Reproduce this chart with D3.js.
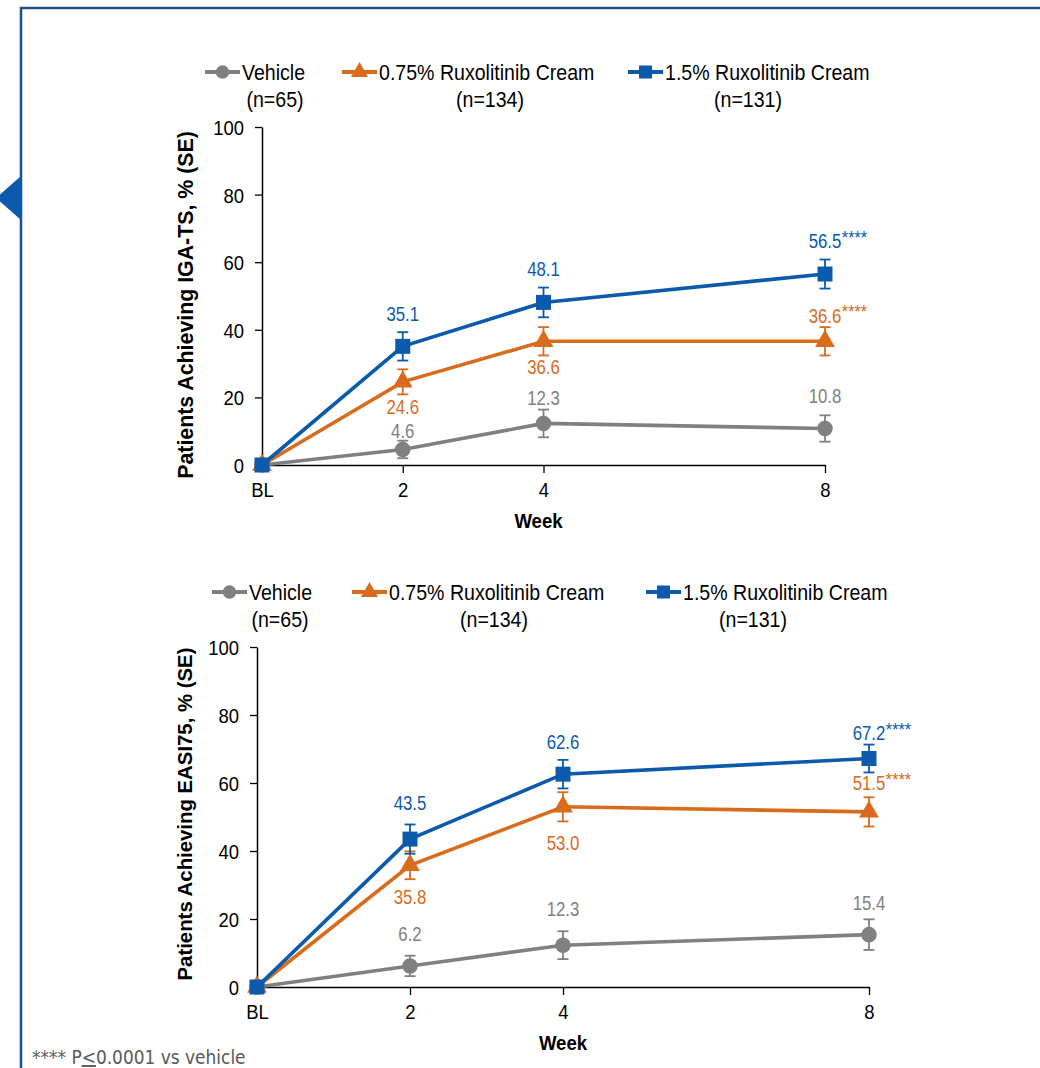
<!DOCTYPE html>
<html>
<head>
<meta charset="utf-8">
<script src="https://cdn.jsdelivr.net/npm/d3@7"></script>
<style>
  html, body { margin: 0; padding: 0; background: #fff; }
  svg { display: block; }
</style>
</head>
<body>
<svg id="chart" width="1040" height="1068"></svg>
<script>
// ---- data ----
const weeks = [0, 2, 4, 8];
const weekLabels = ["BL", "2", "4", "8"];
const yTicks = [0, 20, 40, 60, 80, 100];
const seriesNames = ["Vehicle", "0.75% Ruxolitinib Cream", "1.5% Ruxolitinib Cream"];
const seriesN = ["(n=65)", "(n=134)", "(n=131)"];

// IGA-TS, % of patients (SE)
const igaVehicle = [0, 4.6, 12.3, 10.8];
const igaVehicleSE = [0, 2.6, 4.1, 3.9];
const iga075 = [0, 24.6, 36.6, 36.6];
const iga075SE = [0, 3.7, 4.2, 4.2];
const iga15 = [0, 35.1, 48.1, 56.5];
const iga15SE = [0, 4.2, 4.4, 4.3];

// EASI75, % of patients (SE)
const easiVehicle = [0, 6.2, 12.3, 15.4];
const easiVehicleSE = [0, 3.0, 4.1, 4.5];
const easi075 = [0, 35.8, 53.0, 51.5];
const easi075SE = [0, 4.1, 4.3, 4.3];
const easi15 = [0, 43.5, 62.6, 67.2];
const easi15SE = [0, 4.3, 4.2, 4.1];

// significance flag at week 8 and its footnote
const sigMark = "****";
const footnoteParts = [" P", "<", "0.0001 vs vehicle"];

// ---- styling ----
const colors = ["#808080", "#D96C1C", "#0B5AAB"];
const shapes = [d3.symbolCircle, d3.symbolTriangle, d3.symbolSquare];
const shapeSizes = [190, 170, 225];
const fontSans = '"Liberation Sans", Arial, sans-serif';

const svg = d3.select("#chart");

// horizontally condensed text placed at (x, y)
function squeeze(sel, x, y, s) {
  sel.attr("x", null).attr("y", null)
    .attr("transform", `translate(${x},${y}) scale(${s},1)`);
  return sel;
}

// frame
svg.append("rect")
  .attr("x", 21).attr("y", 8).attr("width", 1100).attr("height", 1100)
  .attr("fill", "none").attr("stroke", "#1D4F8C").attr("stroke-width", 2.5);
svg.append("path")
  .attr("d", "M21,176 L21,220 L-4,198 Z")
  .attr("fill", "#0B5AAB");

function drawPanel(cfg) {
  const g = svg.append("g");
  const x = d3.scaleLinear().domain([0, 8]).range([cfg.left, cfg.right]);
  const y = d3.scaleLinear().domain([0, 100]).range([cfg.bottom, cfg.top]);

  // y axis
  const yAxis = d3.axisLeft(y).tickValues(yTicks).tickSize(7).tickPadding(11).tickSizeOuter(0);
  const ya = g.append("g").attr("transform", `translate(${cfg.left},0)`).call(yAxis);
  ya.select(".domain").attr("stroke", "#000").attr("stroke-width", 1.5);
  ya.selectAll(".tick line").attr("stroke", "#000").attr("stroke-width", 1.3);
  ya.selectAll(".tick text").each(function () {
    const t = d3.select(this);
    const tx = +t.attr("x");
    t.attr("font-family", fontSans).attr("font-size", 21).attr("fill", "#000").attr("dy", "0.36em");
    squeeze(t, tx, 0, 0.88);
  });

  // x axis
  const xAxis = d3.axisBottom(x).tickValues(weeks).tickFormat((d, i) => weekLabels[i])
    .tickSize(8).tickPadding(9).tickSizeOuter(0);
  const xa = g.append("g").attr("transform", `translate(0,${cfg.bottom})`).call(xAxis);
  xa.select(".domain").attr("stroke", "#000").attr("stroke-width", 1.5);
  xa.selectAll(".tick line").attr("stroke", "#000").attr("stroke-width", 1.3)
    .attr("display", d => d === 0 ? "none" : null);
  xa.selectAll(".tick text").each(function () {
    const t = d3.select(this);
    const ty = +t.attr("y");
    t.attr("font-family", fontSans).attr("font-size", 21).attr("fill", "#000");
    squeeze(t, 0, ty, 0.88);
  });

  // axis titles
  squeeze(g.append("text"), (cfg.left + cfg.right) / 2 + cfg.weekDx, cfg.bottom + 63, 0.93)
    .attr("text-anchor", "middle").attr("font-family", fontSans).attr("font-weight", "bold")
    .attr("font-size", 20).text("Week");
  g.append("text")
    .attr("transform", `translate(${cfg.titleX},${cfg.titleY}) rotate(-90) scale(0.97,1)`)
    .attr("text-anchor", "middle").attr("font-family", fontSans).attr("font-weight", "bold")
    .attr("font-size", cfg.titleSize).text(cfg.title);

  // series: lines, error bars, markers
  cfg.series.forEach((s, si) => {
    const pts = weeks.map((w, i) => ({ w, v: s.values[i], se: s.se[i] }));
    g.append("path").datum(pts)
      .attr("d", d3.line().x(d => x(d.w)).y(d => y(d.v)))
      .attr("fill", "none").attr("stroke", colors[si]).attr("stroke-width", 3.6);
    const eb = g.append("g");
    pts.filter(d => d.se > 0).forEach(d => {
      const cx = x(d.w), y1 = y(d.v + d.se), y2 = y(d.v - d.se);
      eb.append("line").attr("x1", cx).attr("x2", cx).attr("y1", y1).attr("y2", y2)
        .attr("stroke", colors[si]).attr("stroke-width", 1.8);
      [y1, y2].forEach(yy => eb.append("line").attr("x1", cx - 5.5).attr("x2", cx + 5.5)
        .attr("y1", yy).attr("y2", yy).attr("stroke", colors[si]).attr("stroke-width", 1.8));
    });
    g.append("g").selectAll("path").data(pts).join("path")
      .attr("transform", d => `translate(${x(d.w)},${y(d.v)})`)
      .attr("d", d3.symbol().type(shapes[si]).size(shapeSizes[si]))
      .attr("fill", colors[si]);
  });

  // value labels
  cfg.series.forEach((s, si) => {
    s.values.forEach((v, i) => {
      if (i === 0) return;
      const cx = x(weeks[i]);
      const cy = y(v) + (s.pos[i] === "above" ? -s.offA[i] : s.offB[i]);
      const t = g.append("text")
        .attr("text-anchor", "middle").attr("dy", "0.35em")
        .attr("font-family", fontSans).attr("font-size", 21).attr("fill", colors[si])
        .text(v.toFixed(1));
      squeeze(t, cx, cy, 0.8);
      if (i === weeks.length - 1 && si > 0) {
        const w = t.node().getComputedTextLength() * 0.8;
        squeeze(g.append("text"), cx + w / 2 + 0.5, cy + 3, 0.9)
          .attr("font-family", fontSans).attr("font-size", 18)
          .attr("fill", colors[si]).text(sigMark);
      }
    });
  });

  // legend
  cfg.legend.forEach((lx, si) => {
    const ly = cfg.legendY;
    g.append("line").attr("x1", lx).attr("x2", lx + 35).attr("y1", ly).attr("y2", ly)
      .attr("stroke", colors[si]).attr("stroke-width", 4);
    g.append("path").attr("transform", `translate(${lx + 17.5},${ly})`)
      .attr("d", d3.symbol().type(shapes[si]).size(shapeSizes[si] * 0.75))
      .attr("fill", colors[si]);
    const t = g.append("text").attr("dy", "0.35em")
      .attr("font-family", fontSans).attr("font-size", 22).attr("fill", "#000")
      .text(seriesNames[si]);
    squeeze(t, lx + 37, ly, 0.89);
    squeeze(g.append("text"), cfg.nCenters[si], ly + 27, 0.89).attr("dy", "0.35em")
      .attr("text-anchor", "middle")
      .attr("font-family", fontSans).attr("font-size", 22).attr("fill", "#000")
      .text(seriesN[si]);
  });
}

drawPanel({
  left: 262, right: 825, top: 127, bottom: 465,
  titleX: 193, titleY: 305, titleSize: 22, title: "Patients Achieving IGA-TS, % (SE)",
  weekDx: -5,
  legendY: 72, legend: [205, 342, 628], nCenters: [275, 490, 748],
  series: [
    { values: igaVehicle, se: igaVehicleSE, pos: ["", "above", "above", "above"], offA: [0, 19, 26, 33], offB: [0, 0, 0, 0] },
    { values: iga075, se: iga075SE, pos: ["", "below", "below", "above"], offA: [0, 0, 0, 26], offB: [0, 25, 25, 0] },
    { values: iga15, se: iga15SE, pos: ["", "above", "above", "above"], offA: [0, 33, 34, 33], offB: [0, 0, 0, 0] }
  ]
});

drawPanel({
  left: 257, right: 869, top: 647, bottom: 987,
  titleX: 192, titleY: 814, titleSize: 21, title: "Patients Achieving EASI75, % (SE)",
  weekDx: 0,
  legendY: 592, legend: [212, 352, 646], nCenters: [280, 494, 753],
  series: [
    { values: easiVehicle, se: easiVehicleSE, pos: ["", "above", "above", "above"], offA: [0, 32, 37, 32], offB: [0, 0, 0, 0] },
    { values: easi075, se: easi075SE, pos: ["", "below", "below", "above"], offA: [0, 0, 0, 29], offB: [0, 31, 36, 0] },
    { values: easi15, se: easi15SE, pos: ["", "above", "above", "above"], offA: [0, 36, 33, 26], offB: [0, 0, 0, 0] }
  ]
});

// footnote
const fn = squeeze(svg.append("text"), 32, 1064, 0.895)
  .attr("font-family", '"DejaVu Sans", Verdana, sans-serif').attr("font-size", 19).attr("fill", "#595959");
fn.append("tspan").text(sigMark + footnoteParts[0]);
fn.append("tspan").attr("text-decoration", "underline").text(footnoteParts[1]);
fn.append("tspan").text(footnoteParts[2]);
</script>
</body>
</html>
